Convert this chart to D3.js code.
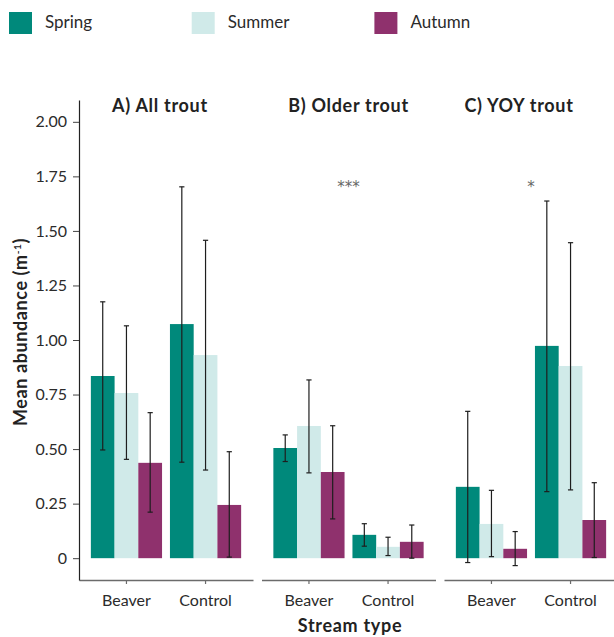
<!DOCTYPE html>
<html>
<head>
<meta charset="utf-8">
<script src="https://cdn.jsdelivr.net/npm/d3@7"></script>
<style>
  body { margin: 0; background: #fff; }
  svg { display: block; font-family: Lato, "Open Sans", sans-serif; }
  .tick text { fill: #2b2b2b; }
</style>
</head>
<body>
<svg id="chart" width="614" height="637"></svg>
<script>
// categories
var seasons = ['Spring', 'Summer', 'Autumn'];
var streamTypes = ['Beaver', 'Control'];
var panelTitles = ['A) All trout', 'B) Older trout', 'C) YOY trout'];
var seasonColors = ['#00897b', '#d0eae9', '#8f316d'];

// values per panel, ordered Beaver (Spring, Summer, Autumn) then Control (Spring, Summer, Autumn)
var allMean  = [0.835, 0.757, 0.437, 1.073, 0.931, 0.244];
var allLow   = [0.496, 0.453, 0.211, 0.440, 0.404, 0.005];
var allHigh  = [1.175, 1.065, 0.667, 1.702, 1.457, 0.488];

var olderMean = [0.505, 0.606, 0.395, 0.107, 0.052, 0.075];
var olderLow  = [0.443, 0.391, 0.180, 0.055, 0.012, 0.000];
var olderHigh = [0.565, 0.817, 0.607, 0.158, 0.096, 0.152];

var yoyMean = [0.327, 0.157, 0.043, 0.973, 0.881, 0.175];
var yoyLow  = [-0.020, 0.007, -0.034, 0.305, 0.313, 0.003];
var yoyHigh = [0.673, 0.311, 0.122, 1.637, 1.446, 0.346];

// significance labels and the height they sit at
var sigLabels = ['', '***', '*'];
var sigValues = [0, 1.72, 1.72];

// y ticks
var yTickValues = [0, 0.25, 0.5, 0.75, 1, 1.25, 1.5, 1.75, 2];
var yTickLabels = ['0', '0.25', '0.50', '0.75', '1.00', '1.25', '1.50', '1.75', '2.00'];

// build one row list per panel
var panelMeans = [allMean, olderMean, yoyMean];
var panelLows = [allLow, olderLow, yoyLow];
var panelHighs = [allHigh, olderHigh, yoyHigh];

var panels = panelTitles.map(function(title, p) {
  var rows = [];
  streamTypes.forEach(function(st, s) {
    seasons.forEach(function(se, k) {
      var i = s * seasons.length + k;
      rows.push({ stream: st, season: se, mean: panelMeans[p][i], lo: panelLows[p][i], hi: panelHighs[p][i] });
    });
  });
  return { title: title, rows: rows, sig: sigLabels[p], sigValue: sigValues[p] };
});

// layout
var svg = d3.select('#chart');
var plotTop = 100, plotBottom = 580;
var panelLeft0 = 79, panelWidth = 174, panelStep = 182.5;
var titleShift = [-6, 0, -12];

var y = d3.scaleLinear().domain([-0.1, 2.1]).range([plotBottom, plotTop]);

var colorScale = d3.scaleOrdinal().domain(seasons).range(seasonColors);

// legend
var legend = svg.append('g').attr('class', 'legend');
seasons.forEach(function(se, i) {
  var lx = 9 + i * 182.7;
  legend.append('rect')
    .attr('x', lx).attr('y', 12)
    .attr('width', 23).attr('height', 22)
    .style('fill', colorScale(se));
  legend.append('text')
    .attr('x', lx + 36).attr('y', 28)
    .style('font-size', '17px')
    .style('fill', '#2b2b2b')
    .text(se);
});

panels.forEach(function(panel, p) {
  var left = panelLeft0 + p * panelStep;

  // ggplot-style discrete scale: 0.6 unit expansion, bars 0.9 wide
  var x = d3.scaleBand().domain(streamTypes)
    .range([left, left + panelWidth])
    .paddingInner(0.1).paddingOuter(0.15);
  var xs = d3.scaleBand().domain(seasons).range([0, x.bandwidth()]);

  var g = svg.append('g').attr('class', 'panel');

  // bars
  g.selectAll('rect.bar')
    .data(panel.rows)
    .enter().append('rect')
    .classed('bar', true)
    .attr('x', function(d) { return x(d.stream) + xs(d.season); })
    .attr('width', xs.bandwidth())
    .attr('y', function(d) { return y(Math.max(0, d.mean)); })
    .attr('height', function(d) { return Math.abs(y(d.mean) - y(0)); })
    .style('fill', function(d) { return colorScale(d.season); });

  // error bars
  var eb = g.selectAll('g.err')
    .data(panel.rows)
    .enter().append('g')
    .classed('err', true)
    .attr('transform', function(d) {
      return 'translate(' + (x(d.stream) + xs(d.season) + xs.bandwidth() / 2) + ',0)';
    })
    .style('stroke', '#1e1e1e')
    .style('stroke-width', 1.2);
  eb.append('line')
    .attr('y1', function(d) { return y(d.lo); })
    .attr('y2', function(d) { return y(d.hi); });
  eb.append('line')
    .attr('x1', -2.6).attr('x2', 2.6)
    .attr('y1', function(d) { return y(d.hi); })
    .attr('y2', function(d) { return y(d.hi); });
  eb.append('line')
    .attr('x1', -2.6).attr('x2', 2.6)
    .attr('y1', function(d) { return y(d.lo); })
    .attr('y2', function(d) { return y(d.lo); });

  // x axis
  var xAxis = g.append('g')
    .attr('transform', 'translate(0,' + plotBottom + ')')
    .call(d3.axisBottom(x).tickSizeInner(4).tickSizeOuter(0).tickPadding(11));
  xAxis.select('.domain').style('stroke', '#6b6b6b').style('stroke-width', 1.4);
  xAxis.selectAll('.tick line').style('stroke', '#6b6b6b').style('stroke-width', 1.2);
  xAxis.selectAll('.tick text').style('font-size', '16px').style('font-family', 'Lato, sans-serif');

  // panel title
  g.append('text')
    .attr('x', left + panelWidth / 2 + titleShift[p])
    .attr('y', 112)
    .attr('text-anchor', 'middle')
    .style('font-size', '18px')
    .style('font-weight', 'bold')
    .style('letter-spacing', '0.7px')
    .style('fill', '#222')
    .text(panel.title);

  // significance stars
  if (panel.sig) {
    g.append('text')
      .attr('x', left + panelWidth / 2)
      .attr('y', y(panel.sigValue))
      .attr('dy', '0.6em')
      .attr('text-anchor', 'middle')
      .style('font-family', '"DejaVu Sans", sans-serif')
      .style('font-size', '15px')
      .style('fill', '#666')
      .text(panel.sig);
  }
});

// y axis, first panel only
var yAxis = svg.append('g')
  .attr('transform', 'translate(' + panelLeft0 + ',0)')
  .call(d3.axisLeft(y).tickValues(yTickValues)
    .tickFormat(function(d, i) { return yTickLabels[i]; })
    .tickSizeInner(6).tickSizeOuter(0).tickPadding(6));
yAxis.select('.domain').style('stroke', '#222').style('stroke-width', 1.2);
yAxis.selectAll('.tick line').style('stroke', '#444');
yAxis.selectAll('.tick text').style('font-size', '16px').style('font-family', 'Lato, sans-serif');

// axis titles
var yTitle = svg.append('text')
  .attr('transform', 'translate(27,332) rotate(-90)')
  .attr('text-anchor', 'middle')
  .style('font-size', '18px')
  .style('font-weight', 'bold')
  .style('letter-spacing', '0.6px')
  .style('fill', '#222');
yTitle.append('tspan').text('Mean abundance (m');
yTitle.append('tspan').attr('dy', -6).style('font-size', '10px').text('-1');
yTitle.append('tspan').attr('dy', 6).text(')');

svg.append('text')
  .attr('x', 350).attr('y', 632)
  .attr('text-anchor', 'middle')
  .style('font-size', '18px')
  .style('font-weight', 'bold')
  .style('letter-spacing', '0.7px')
  .style('fill', '#222')
  .text('Stream type');
</script>
</body>
</html>
